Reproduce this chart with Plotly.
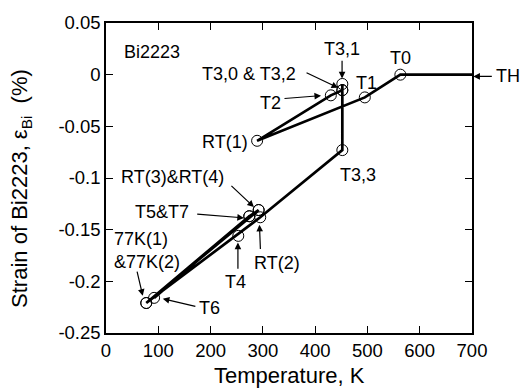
import plotly.graph_objects as go

# ---- data ----
# measured points along the thermal history (temperature K, strain %)
point_labels = ["T0", "T1", "RT(1)", "T2", "T3,0", "T3,1", "T3,2", "T3,3",
                "RT(2)", "77K(1)", "RT(3)", "T4", "77K(2)", "T5", "T6", "T7", "RT(4)"]
point_T = [563, 495, 289, 430, 452, 452, 452, 452,
           295, 77, 292, 253, 77, 274, 92, 274, 292]
point_eps = [0.000, -0.022, -0.064, -0.020, -0.015, -0.009, -0.015, -0.073,
             -0.138, -0.221, -0.131, -0.156, -0.221, -0.137, -0.216, -0.137, -0.131]

# connecting path (TH start at the right edge, then the sequence)
path_labels = ["TH", "T0", "T1", "RT(1)", "T2", "T3,0", "T3,1", "T3,2", "T3,3",
               "RT(2)", "77K(1)", "RT(3)", "77K(2)", "T5", "T6", "T7", "RT(4)"]
TH_T = 700
TH_eps = 0.0

x_ticks = [0, 100, 200, 300, 400, 500, 600, 700]
y_ticks = [-0.25, -0.2, -0.15, -0.1, -0.05, 0, 0.05]
y_tick_text = ["-0.25", "-0.2", "-0.15", "-0.1", "-0.05", "0", "0.05"]

lookup = dict(zip(point_labels, zip(point_T, point_eps)))
lookup["TH"] = (TH_T, TH_eps)
path_T = [lookup[k][0] for k in path_labels]
path_eps = [lookup[k][1] for k in path_labels]

FONT = "Arial, 'Liberation Sans', sans-serif"

fig = go.Figure()
fig.add_trace(go.Scatter(x=path_T, y=path_eps, mode="lines",
                         line=dict(color="black", width=2.7),
                         cliponaxis=False, showlegend=False, hoverinfo="skip"))
fig.add_trace(go.Scatter(x=point_T, y=point_eps, mode="markers",
                         marker=dict(symbol="circle-open", size=11,
                                     color="black", line=dict(width=1)),
                         cliponaxis=False, showlegend=False, text=point_labels))

ann = []
def label(x, y, text, xanchor="center", align="center"):
    ann.append(dict(x=x, y=y, xref="x", yref="y", text=text, showarrow=False,
                    xanchor=xanchor, yanchor="middle", align=align,
                    font=dict(family=FONT, size=18, color="black")))

def arrow(x_head, y_head, x_tail, y_tail):
    ann.append(dict(x=x_head, y=y_head, ax=x_tail, ay=y_tail,
                    xref="x", yref="y", axref="x", ayref="y", text="",
                    showarrow=True, arrowhead=2, arrowsize=1.1, arrowwidth=1.2,
                    arrowcolor="black", standoff=0, startstandoff=0))

label(30, 0.0221, "Bi2223", xanchor="left")
label(451.5, 0.0245, "T3,1")
arrow(451.5, -0.0036, 451.5, 0.015)
label(562.6, 0.0159, "T0")
label(497.5, -0.0079, "T1")
label(273.4, 0.0007, "T3,0 &amp; T3,2")
arrow(443.9, -0.0127, 380.7, 0.0026)
label(315.5, -0.027, "T2")
arrow(411.3, -0.0203, 338.5, -0.0232)
label(275.3, -0.0652, "RT(1)", xanchor="right")
label(482.2, -0.0967, "T3,3")
# TH label sits outside the plot area, to the right of the axis
ann.append(dict(x=1.061, y=-0.0017, xref="paper", yref="y", text="TH",
                showarrow=False, xanchor="left", yanchor="middle",
                font=dict(family=FONT, size=18, color="black")))
ann.append(dict(x=1.0036, y=-0.0017, xref="paper", yref="y", text="",
                ax=20, ay=0, showarrow=True, arrowhead=2, arrowsize=1.1,
                arrowwidth=1.2, arrowcolor="black", standoff=0, startstandoff=0))
label(126.8, -0.099, "RT(3)&amp;RT(4)")
arrow(282.9, -0.1281, 237.0, -0.1062)
label(106.7, -0.1329, "T5&amp;T7")
arrow(263.8, -0.1386, 171.6, -0.1348)
label(327.0, -0.1825, "RT(2)")
arrow(293.5, -0.1453, 295.4, -0.1701)
label(248.5, -0.2007, "T4")
arrow(252.3, -0.1625, 252.3, -0.1892)
label(10.9, -0.1701, "77K(1)<br>&amp;77K(2)", xanchor="left", align="left")
arrow(70.3, -0.214, 58.8, -0.1892)
label(197.1, -0.2255, "T6")
arrow(108.6, -0.2169, 173.8, -0.2245)

# axis titles
ann.append(dict(x=0.5027, y=-0.136, xref="paper", yref="paper", showarrow=False,
                text="Temperature, K", xanchor="center", yanchor="middle",
                font=dict(family=FONT, size=22, color="black")))
ann.append(dict(x=-0.2307, y=0.4666, xref="paper", yref="paper", showarrow=False,
                text="Strain of Bi2223, ε<sub>Bi</sub>  (%)", textangle=-90,
                xanchor="center", yanchor="middle",
                font=dict(family=FONT, size=22, color="black")))

axis_common = dict(showgrid=False, zeroline=False, showline=True, linecolor="black",
                   linewidth=1.5, mirror="ticks", ticks="inside", ticklen=7,
                   tickwidth=1.2, tickcolor="black",
                   tickfont=dict(family=FONT, size=18.5, color="black"))

fig.update_layout(
    width=523, height=389,
    margin=dict(l=106, r=51, t=18, b=56),
    paper_bgcolor="white", plot_bgcolor="white",
    xaxis=dict(range=[0, 700], tickvals=x_ticks, **axis_common),
    yaxis=dict(range=[-0.25, 0.05], tickvals=y_ticks, ticktext=y_tick_text, **axis_common),
    annotations=ann,
    font=dict(family=FONT, color="black"),
)

fig.write_html("out.html")
